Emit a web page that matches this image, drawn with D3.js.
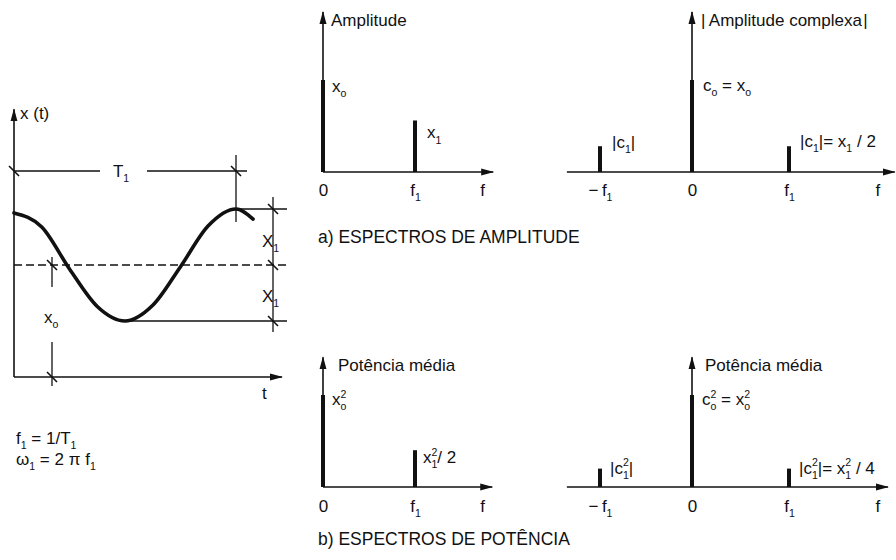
<!DOCTYPE html>
<html>
<head>
<meta charset="utf-8">
<script src="https://cdn.jsdelivr.net/npm/d3@7"></script>
<style>
  html, body { margin: 0; padding: 0; background: #fff; }
  svg { display: block; font-family: "Liberation Sans", Arial, Helvetica, sans-serif; }
  text { white-space: pre; }
</style>
</head>
<body>
<svg id="chart" width="896" height="560"></svg>
<script>
// ---------- data ----------
// time signal x(t): mean level x_o and amplitude X_1 (in units of X_1)
const signalMean = 2.0;
const signalAmp = 1.0;
// points of x(t) along one period T_1 (t as a fraction of T_1)
const signalT = [0, 0.125, 0.25, 0.375, 0.5, 0.625, 0.75, 0.875, 1.0, 1.077];
const signalX = [2.93, 2.68, 1.93, 1.26, 1.0, 1.28, 1.97, 2.70, 3.0, 2.82];

// one-sided spectra (frequency in units of f_1)
const freqOneSided = [0, 1];
const amplitudeOneSided = [1.0, 0.56];        // x_o, x_1
const powerOneSided = [1.0, 0.40];            // x_o², x_1²/2

// two-sided spectra
const freqTwoSided = [-1, 0, 1];
const amplitudeTwoSided = [0.28, 1.0, 0.28];  // |c_1|, c_o, |c_1|
const powerTwoSided = [0.20, 1.0, 0.20];      // |c_1²|, c_o², |c_1²|

// tick labels
const tickValuesOneSided = [0, 1, 1.73];
const tickLabelsOneSided = ["0", "f_{1}", "f"];
const tickValuesTwoSided = [-1, 0, 1, 1.91];
const tickLabelsTwoSided = ["\u2212\u2009f_{1}", "0", "f_{1}", "f"];

// value labels
const labelsAmpOne = ["x_{o}", "x_{1}"];
const labelsAmpTwo = ["|c_{1}|", "c_{o} = x_{o}", "|c_{1}|= x_{1} / 2"];
const labelsPowOne = ["x_{o}^{2}", "x_{1}^{2}/ 2"];
const labelsPowTwo = ["|c_{1}^{2}|", "c_{o}^{2} = x_{o}^{2}", "|c_{1}^{2}|= x_{1}^{2} / 4"];

// ---------- drawing ----------
const ink = "#111";
const FS = 17;
const svg = d3.select("#chart");

svg.append("defs").append("marker")
  .attr("id", "arrow")
  .attr("viewBox", "0 -4 13 8")
  .attr("refX", 12).attr("refY", 0)
  .attr("markerWidth", 13).attr("markerHeight", 8)
  .attr("markerUnits", "userSpaceOnUse")
  .attr("orient", "auto")
  .append("path").attr("d", "M0,-3.5L13,0L0,3.5Z").attr("fill", ink);

// text with simple _{sub} and ^{sup} markup
function rich(sel, str, size) {
  sel.text(null);
  const small = size * 0.62;
  const SUB = size * 0.3, SUP = -size * 0.42;
  let cur = 0;
  const add = (txt, level, fs, dx) => {
    const ts = sel.append("tspan").text(txt).attr("font-size", fs);
    if (level !== cur) ts.attr("dy", level - cur);
    if (dx) ts.attr("dx", dx);
    cur = level;
  };
  const tokens = str.match(/_\{[^}]*\}\^\{[^}]*\}|_\{[^}]*\}|\^\{[^}]*\}|[^_^]+/g) || [];
  tokens.forEach(tok => {
    let m;
    if ((m = tok.match(/^_\{([^}]*)\}\^\{([^}]*)\}$/))) {
      add(m[1], SUB, small);
      add(m[2], SUP, small, -small * 0.556 * m[1].length);
    } else if ((m = tok.match(/^_\{([^}]*)\}$/))) {
      add(m[1], SUB, small);
    } else if ((m = tok.match(/^\^\{([^}]*)\}$/))) {
      add(m[1], SUP, small);
    } else {
      add(tok, 0, size);
    }
  });
  return sel;
}

function label(g, x, y, str, opts = {}) {
  const t = g.append("text")
    .attr("x", x).attr("y", y)
    .attr("fill", ink)
    .attr("font-size", opts.size || FS)
    .attr("text-anchor", opts.anchor || "start");
  rich(t, str, opts.size || FS);
  return t;
}

function seg(g, x1, y1, x2, y2, opts = {}) {
  const p = g.append("path")
    .attr("d", d3.line()([[x1, y1], [x2, y2]]))
    .attr("stroke", ink)
    .attr("stroke-width", opts.w || 1.5)
    .attr("fill", "none");
  if (opts.dash) p.attr("stroke-dasharray", opts.dash);
  if (opts.arrow) p.attr("marker-end", "url(#arrow)");
  return p;
}

// slanted dimension tick
function cross(g, x, y) {
  seg(g, x - 5, y - 5, x + 5, y + 5, { w: 1.6 });
}

// ---------- time signal panel ----------
(function () {
  const g = svg.append("g");
  const tS = d3.scaleLinear().domain([0, 1]).range([14, 236]);
  const vS = d3.scaleLinear().domain([0, 1]).range([377, 321]);

  // axes
  seg(g, tS(0), vS(0), tS(0), vS(4.78), { arrow: true, w: 1.6 });
  seg(g, tS(0), vS(0), tS(1.207), vS(0), { arrow: true, w: 1.6 });
  label(g, 20, 119, "x (t)");
  label(g, 262, 399, "t");

  // reference levels
  const peak = signalMean + signalAmp, low = signalMean - signalAmp;
  seg(g, tS(0), vS(signalMean), 287, vS(signalMean), { dash: "8,4", w: 1.4 });
  seg(g, tS(1), vS(peak), 287, vS(peak), { w: 1.3 });
  seg(g, tS(0.5), vS(low), 287, vS(low), { w: 1.3 });

  // signal
  const pts = signalT.map((t, i) => [t, signalX[i]]);
  g.append("path")
    .datum(pts)
    .attr("d", d3.line().x(d => tS(d[0])).y(d => vS(d[1])).curve(d3.curveMonotoneX))
    .attr("fill", "none")
    .attr("stroke", ink)
    .attr("stroke-width", 3.6)
    .attr("stroke-linecap", "round");

  // period T_1
  const yT = 171;
  seg(g, tS(0), yT, 100, yT, { w: 1.3 });
  seg(g, 147, yT, 247, yT, { w: 1.3 });
  seg(g, tS(1), 155, tS(1), 222, { w: 1.3 });
  cross(g, tS(0), yT);
  cross(g, tS(1), yT);
  label(g, 121, 177, "T_{1}", { anchor: "middle" });

  // amplitude X_1
  const xD = 273;
  seg(g, xD, vS(peak) - 12, xD, vS(low) + 11, { w: 1.3 });
  [peak, signalMean, low].forEach(v => cross(g, xD, vS(v)));
  label(g, 262, 247, "X_{1}");
  label(g, 262, 302, "X_{1}");

  // mean level x_o
  const xM = 52;
  seg(g, xM, vS(signalMean) - 8, xM, 287, { w: 1.3 });
  seg(g, xM, 342, xM, vS(0) + 9, { w: 1.3 });
  cross(g, xM, vS(signalMean));
  cross(g, xM, vS(0));
  label(g, 44, 323, "x_{o}");

  // relations
  label(g, 16, 444, "f_{1} = 1/T_{1}");
  label(g, 16, 465, "\u03c9_{1} = 2 \u03c0 f_{1}");
})();

// ---------- spectrum panels ----------
function spectrum(cfg) {
  const g = svg.append("g");
  const fS = d3.scaleLinear().domain(cfg.fDomain).range(cfg.fRange);
  const yS = d3.scaleLinear().domain([0, 1]).range([cfg.axisY, cfg.axisY - 92]);

  seg(g, fS(cfg.fStart), yS(0), fS(cfg.fEnd), yS(0), { arrow: true, w: 1.6 });
  seg(g, fS(0), yS(0), fS(0), yS(cfg.vTop), { arrow: true, w: 1.6 });

  const bars = cfg.freqs.map((f, i) => ({ f, v: cfg.values[i], lab: cfg.labels[i], off: cfg.offsets[i] }));
  g.selectAll("rect.bar").data(bars).join("rect")
    .attr("class", "bar")
    .attr("x", d => fS(d.f) - 2)
    .attr("width", 4)
    .attr("y", d => yS(d.v))
    .attr("height", d => yS(0) - yS(d.v))
    .attr("fill", ink);

  bars.forEach(d => label(g, fS(d.f) + d.off[0], yS(d.v) + d.off[1], d.lab));

  const axis = d3.axisBottom(fS)
    .tickValues(cfg.tickValues)
    .tickSize(0)
    .tickPadding(cfg.pad)
    .tickFormat((d, i) => cfg.tickLabels[i]);
  const ag = g.append("g")
    .attr("transform", `translate(0,${yS(0)})`)
    .call(axis)
    .attr("font-size", null)
    .attr("font-family", null)
    .attr("color", ink);
  ag.select(".domain").remove();
  ag.selectAll(".tick text").each(function (d, i) {
    rich(d3.select(this).attr("font-size", FS), cfg.tickLabels[i], FS);
  });

  label(g, cfg.title[0], cfg.title[1], cfg.title[2]);
}

spectrum({
  fDomain: [0, 1], fRange: [323, 415], axisY: 172, fStart: 0, fEnd: 1.85, vTop: 1.74,
  freqs: freqOneSided, values: amplitudeOneSided, labels: labelsAmpOne,
  offsets: [[9, 12], [12, 18]],
  tickValues: tickValuesOneSided, tickLabels: tickLabelsOneSided, pad: 12,
  title: [331, 26, "Amplitude"]
});
spectrum({
  fDomain: [-1, 0, 1], fRange: [600, 692, 789], axisY: 172, fStart: -1.36, fEnd: 2.09, vTop: 1.74,
  freqs: freqTwoSided, values: amplitudeTwoSided, labels: labelsAmpTwo,
  offsets: [[12, 2], [11, 11], [11, 1]],
  tickValues: tickValuesTwoSided, tickLabels: tickLabelsTwoSided, pad: 12,
  title: [701, 26, "|\u2009Amplitude complexa\u200a|"]
});
spectrum({
  fDomain: [0, 1], fRange: [323, 415], axisY: 487, fStart: 0, fEnd: 1.84, vTop: 1.41,
  freqs: freqOneSided, values: powerOneSided, labels: labelsPowOne,
  offsets: [[9, 10], [8, 13]],
  tickValues: tickValuesOneSided, tickLabels: tickLabelsOneSided, pad: 13,
  title: [338, 371, "Pot\u00eancia m\u00e9dia"]
});
spectrum({
  fDomain: [-1, 0, 1], fRange: [600, 692, 789], axisY: 487, fStart: -1.36, fEnd: 2.02, vTop: 1.41,
  freqs: freqTwoSided, values: powerTwoSided, labels: labelsPowTwo,
  offsets: [[10, 5], [10, 10], [10, 5]],
  tickValues: tickValuesTwoSided, tickLabels: tickLabelsTwoSided, pad: 13,
  title: [705, 371, "Pot\u00eancia m\u00e9dia"]
});

// captions
label(svg, 318, 243, "a) ESPECTROS DE AMPLITUDE", { size: 17.5 });
label(svg, 318, 545, "b) ESPECTROS DE POT\u00caNCIA", { size: 17.5 });
</script>
</body>
</html>
